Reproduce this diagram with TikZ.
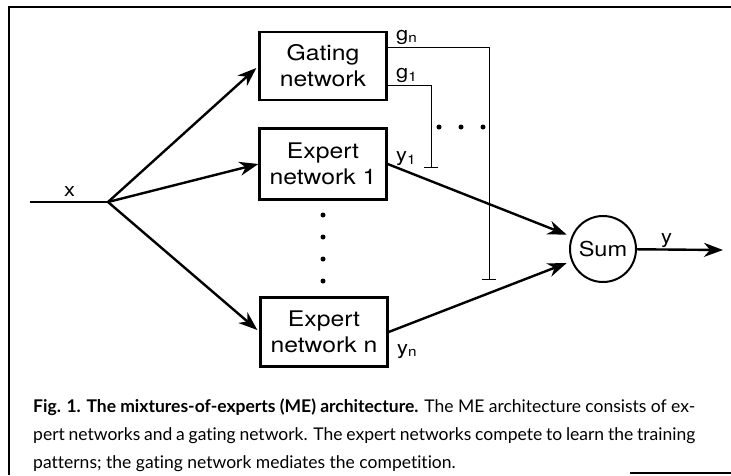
\documentclass[tikz,border=0pt]{standalone}
\usepackage{fontspec}
\setmainfont{TeX Gyre Heros}
\newfontfamily\diafont[FakeStretch=1.15]{TeX Gyre Heros}
\newfontfamily\capfont[Ligatures=NoCommon]{Lato}
\usetikzlibrary{arrows.meta}
\begin{document}
\begin{tikzpicture}[x=1pt,y=-1pt,
  box/.style={draw,line width=2.3pt,minimum width=127pt,minimum height=68pt,align=center,
    font=\diafont\fontsize{21.5}{26}\selectfont,inner sep=0pt},
  arr/.style={line width=2.4pt,-{Stealth[length=19pt,width=14pt,inset=6pt]}},
  gline/.style={line width=0.9pt,-{Bar[width=14pt,line width=0.9pt]}},
  lbl/.style={font=\diafont\fontsize{19}{22}\selectfont,inner sep=0pt,anchor=base west},
  dot/.style={circle,fill,inner sep=0pt,minimum size=5pt},
  capline/.style={font=\capfont\fontsize{17.5}{28}\selectfont,inner sep=0pt,anchor=base west}]
\useasboundingbox (0,0) rectangle (731,475);
% frame
\draw[line width=1.3pt] (731,7) -- (9,7) -- (9,475);
\draw[line width=1.3pt] (630,473) -- (731,473);
% nodes
\coordinate (xin) at (30,202);
\coordinate (j) at (108,202);
\node[box] (gate) at (323,66) {Gating\\network};
\node[box,minimum height=71pt] (e1) at (323,164) {Expert\\network 1};
\node[box,minimum height=69pt] (en) at (324,332) {Expert\\network n};
\node[circle,draw,line width=2pt,minimum size=66pt,inner sep=0pt,font=\diafont\fontsize{20.5}{24}\selectfont] (sum) at (603,249) {Sum};
\coordinate (out) at (723,250);
% input
\draw[line width=2.4pt] (xin) -- (j);
\node[lbl] at (64,196) {x};
\draw[arr] (j) -- ([xshift=-2pt,yshift=-2pt]gate.west);
\draw[arr] (j) -- (e1.west);
\draw[arr] (j) -- ([xshift=-2pt,yshift=2pt]en.west);
% expert outputs
\draw[arr,shorten >=5pt] (e1.east) -- (sum);
\draw[arr,shorten >=5pt] (en.east) -- (sum);
\draw[arr] (sum) -- (out);
\node[lbl] at (396,161) {y\textsubscript{1}};
\node[lbl] at (397,354) {y\textsubscript{n}};
\node[lbl] at (661,243) {y};
% gating outputs
\coordinate (gny) at (0,47);
\coordinate (g1y) at (0,85);
\coordinate (tn) at (489,280);
\coordinate (t1) at (431,168);
\draw[gline] (gate.east |- gny) -| (tn);
\draw[gline] (gate.east |- g1y) -| (t1);
\node[lbl] at (396,40) {g\textsubscript{n}};
\node[lbl] at (396,78) {g\textsubscript{1}};
% dots
\foreach \yy in {215,237,259,281} \node[dot] at (323,\yy) {};
\foreach \xx in {439,461,483} \node[dot] at (\xx,127) {};
% caption
\node[capline] (c1) at (33,412) {\makebox[662pt][s]{\textbf{Fig. 1. The mixtures-of-experts (ME) architecture.} The ME architecture consists of ex-}};
\node[capline] (c2) at (33,440) {\makebox[662pt][s]{pert networks and a gating network. The expert networks compete to learn the training}};
\node[capline] (c3) at (33,468) {patterns; the gating network mediates the competition.};
\end{tikzpicture}
\end{document}
